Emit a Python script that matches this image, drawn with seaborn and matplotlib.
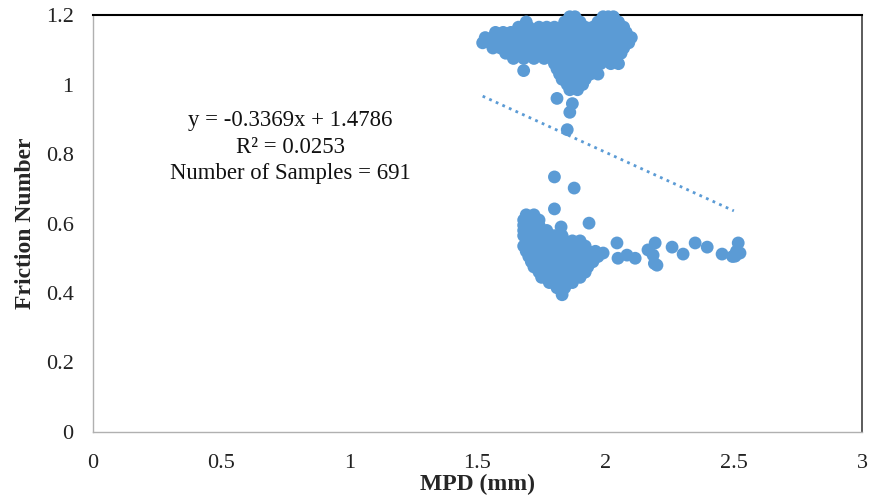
import matplotlib
matplotlib.use("Agg")
import matplotlib.pyplot as plt
import seaborn as sns
import pandas as pd

# ---- data ----
# upper cluster rows: (friction, [MPD values])
upper_rows = [
    (1.195, [1.86, 1.88, 1.99, 2.01, 2.03]),
    (1.18, [1.69, 1.84, 1.87, 1.90, 1.97, 2.00, 2.03, 2.05]),
    (1.165, [1.66, 1.70, 1.74, 1.77, 1.80, 1.83, 1.86, 1.89, 1.92, 1.95, 1.98, 2.01, 2.04, 2.07]),
    (1.15, [1.57, 1.60, 1.63, 1.66, 1.69, 1.72, 1.75, 1.78, 1.81, 1.84, 1.87, 1.90, 1.93, 1.96, 1.99, 2.02, 2.05, 2.08]),
    (1.135, [1.53, 1.56, 1.59, 1.62, 1.65, 1.68, 1.71, 1.74, 1.77, 1.80, 1.83, 1.86, 1.89, 1.92, 1.95, 1.98, 2.01, 2.04, 2.07, 2.10]),
    (1.12, [1.52, 1.55, 1.58, 1.61, 1.64, 1.67, 1.70, 1.73, 1.76, 1.79, 1.82, 1.85, 1.88, 1.91, 1.94, 1.97, 2.00, 2.03, 2.06, 2.09]),
    (1.105, [1.56, 1.59, 1.62, 1.65, 1.68, 1.71, 1.74, 1.77, 1.80, 1.83, 1.86, 1.89, 1.92, 1.95, 1.98, 2.01, 2.04, 2.07]),
    (1.09, [1.61, 1.64, 1.67, 1.70, 1.73, 1.76, 1.79, 1.82, 1.85, 1.88, 1.91, 1.94, 1.97, 2.00, 2.03, 2.06]),
    (1.075, [1.64, 1.68, 1.72, 1.76, 1.80, 1.83, 1.86, 1.89, 1.92, 1.95, 1.98, 2.01, 2.04]),
    (1.06, [1.80, 1.83, 1.86, 1.89, 1.92, 1.95, 1.98, 2.02, 2.05]),
    (1.045, [1.81, 1.84, 1.87, 1.90, 1.93, 1.96]),
    (1.03, [1.82, 1.85, 1.88, 1.91, 1.94, 1.97]),
    (1.015, [1.83, 1.86, 1.89, 1.92]),
    (1.0, [1.85, 1.88, 1.91]),
    (0.985, [1.86, 1.89]),
]
upper_out_mpd = [1.68, 1.81, 1.87, 1.86, 1.85]
upper_out_fn = [1.04, 0.96, 0.945, 0.92, 0.87]

lower_rows = [
    (0.625, [1.69, 1.72]),
    (0.61, [1.68, 1.71, 1.74]),
    (0.595, [1.68, 1.71, 1.74]),
    (0.58, [1.68, 1.71, 1.74, 1.77]),
    (0.565, [1.68, 1.71, 1.74, 1.77, 1.80, 1.83]),
    (0.55, [1.69, 1.72, 1.75, 1.78, 1.81, 1.84, 1.87, 1.90]),
    (0.535, [1.68, 1.71, 1.74, 1.77, 1.80, 1.83, 1.86, 1.89, 1.92]),
    (0.52, [1.69, 1.72, 1.75, 1.78, 1.81, 1.84, 1.87, 1.90, 1.93, 1.96]),
    (0.505, [1.70, 1.73, 1.76, 1.79, 1.82, 1.85, 1.88, 1.91, 1.94, 1.97]),
    (0.49, [1.71, 1.74, 1.77, 1.80, 1.83, 1.86, 1.89, 1.92, 1.95]),
    (0.475, [1.72, 1.75, 1.78, 1.81, 1.84, 1.87, 1.90, 1.93]),
    (0.46, [1.74, 1.77, 1.80, 1.83, 1.86, 1.89, 1.92]),
    (0.445, [1.75, 1.78, 1.81, 1.84, 1.87, 1.90]),
    (0.43, [1.78, 1.81, 1.84, 1.87]),
    (0.415, [1.81, 1.84]),
    (0.395, [1.83]),
]
lower_out_mpd = [1.80, 1.877, 1.80, 1.935, 1.826, 1.99,
                 2.044, 2.048, 2.083, 2.115, 2.165, 2.193, 2.185, 2.20, 2.19,
                 2.259, 2.302, 2.349, 2.396, 2.454, 2.517, 2.505, 2.524, 2.51, 2.495]
lower_out_fn = [0.734, 0.702, 0.642, 0.601, 0.59, 0.515,
                0.544, 0.50, 0.509, 0.50, 0.524, 0.544, 0.509, 0.48, 0.485,
                0.532, 0.512, 0.544, 0.532, 0.512, 0.544, 0.506, 0.515, 0.52, 0.505]

slope = -0.3369
intercept = 1.4786
trend_x = [1.52, 2.5]
equation_lines = ["y = -0.3369x + 1.4786", "R² = 0.0253", "Number of Samples = 691"]

x_ticks = [0, 0.5, 1, 1.5, 2, 2.5, 3]
y_ticks = [0, 0.2, 0.4, 0.6, 0.8, 1, 1.2]
x_tick_labels = ["0", "0.5", "1", "1.5", "2", "2.5", "3"]
y_tick_labels = ["0", "0.2", "0.4", "0.6", "0.8", "1", "1.2"]

# ---- build table ----
mpd, fn = [], []
for yv, xs in upper_rows + lower_rows:
    for xv in xs:
        mpd.append(xv)
        fn.append(yv)
mpd += upper_out_mpd + lower_out_mpd
fn += upper_out_fn + lower_out_fn
df = pd.DataFrame({"MPD": mpd, "Friction": fn})
trend_df = pd.DataFrame({"MPD": trend_x,
                         "Friction": [slope * v + intercept for v in trend_x]})

sns.set_style("white")
plt.rcParams["font.family"] = ["Liberation Serif", "DejaVu Serif"]

blue = "#5b9bd5"
fig = plt.figure(figsize=(8.71, 4.97), dpi=100)
ax = fig.add_axes([0.1068, 0.1308, 0.8829, 0.839])

sns.scatterplot(data=df, x="MPD", y="Friction", ax=ax, color=blue, s=85,
                edgecolor="none", linewidth=0, clip_on=False, zorder=3)
sns.lineplot(data=trend_df, x="MPD", y="Friction", ax=ax, color=blue,
             linestyle=(0, (1, 1.6)), linewidth=2, zorder=2)

ax.set_xlim(0, 3)
ax.set_ylim(0, 1.2)
ax.set_xticks(x_ticks)
ax.set_xticklabels(x_tick_labels)
ax.set_yticks(y_ticks)
ax.set_yticklabels(y_tick_labels)
ax.tick_params(axis="both", length=0, labelsize=16, colors="#222222")
ax.tick_params(axis="y", pad=14)
ax.tick_params(axis="x", pad=16)

ax.set_xlabel("MPD (mm)", fontsize=17, fontweight="bold", labelpad=0.5)
ax.set_ylabel("Friction Number", fontsize=17, fontweight="bold", labelpad=7)

for side in ["left", "bottom"]:
    ax.spines[side].set_color("#b0b0b0")
    ax.spines[side].set_linewidth(1)
ax.spines["top"].set_color("black")
ax.spines["top"].set_linewidth(1.5)
ax.spines["right"].set_color("#404040")
ax.spines["right"].set_linewidth(1.2)

for i, line in enumerate(equation_lines):
    ax.text(0.77, 0.895 - i * 0.075, line, ha="center", va="center",
            fontsize=16.4, color="#111111")

fig.savefig("out.png", dpi=100)
